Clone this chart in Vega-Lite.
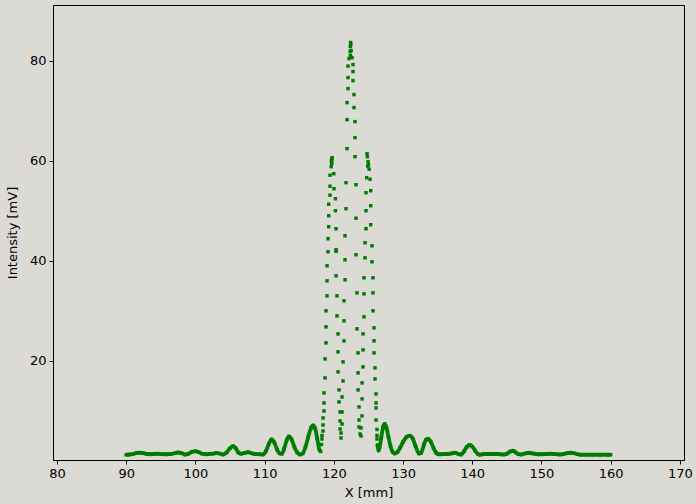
{
  "$schema": "https://vega.github.io/schema/vega-lite/v6.json",
  "width": 631,
  "height": 455,
  "autosize": {"type": "none"},
  "padding": {"left": 53, "top": 5, "right": 12, "bottom": 44},
  "background": "#dcdad5",
  "config": {
    "view": {"stroke": "#000000", "strokeWidth": 1, "fill": "#dcdad5"},
    "axis": {
      "labelFont": "DejaVu Sans", "titleFont": "DejaVu Sans",
      "labelFontSize": 13, "titleFontSize": 13, "titleFontWeight": "normal",
      "labelColor": "#000000", "titleColor": "#000000",
      "domainColor": "#000000", "tickColor": "#000000",
      "tickSize": 4, "grid": false
    }
  },
  "data": {"values": [
    {"x":90.0,"y":1.25},{"x":90.5,"y":1.3},{"x":91.0,"y":1.4},{"x":91.5,"y":1.6},{"x":92.0,"y":1.65},{"x":92.5,"y":1.55},{"x":93.0,"y":1.4},{"x":93.5,"y":1.35},{"x":94.0,"y":1.4},{"x":94.5,"y":1.45},{"x":95.0,"y":1.4},{"x":95.5,"y":1.35},{"x":96.0,"y":1.35},{"x":96.5,"y":1.4},{"x":97.0,"y":1.55},{"x":97.5,"y":1.7},{"x":98.0,"y":1.55},{"x":98.5,"y":1.3},{"x":99.0,"y":1.45},{"x":99.5,"y":1.85},{"x":100.0,"y":1.95},{"x":100.5,"y":1.75},{"x":101.0,"y":1.45},{"x":101.5,"y":1.35},{"x":102.0,"y":1.4},{"x":102.5,"y":1.45},{"x":103.0,"y":1.6},{"x":103.5,"y":1.5},{"x":104.0,"y":1.3},{"x":104.5,"y":1.7},{"x":105.0,"y":2.55},{"x":105.4,"y":2.95},{"x":105.8,"y":2.6},{"x":106.2,"y":1.7},{"x":106.6,"y":1.45},{"x":107.1,"y":1.6},{"x":107.6,"y":1.75},{"x":108.1,"y":1.55},{"x":108.6,"y":1.4},{"x":109.2,"y":1.35},{"x":109.7,"y":1.3},{"x":110.2,"y":2.0},{"x":110.6,"y":3.4},{"x":111.0,"y":4.3},{"x":111.4,"y":3.7},{"x":111.8,"y":2.3},{"x":112.2,"y":1.5},{"x":112.5,"y":1.45},{"x":112.8,"y":2.4},{"x":113.2,"y":4.2},{"x":113.5,"y":4.9},{"x":113.9,"y":4.3},{"x":114.3,"y":2.8},{"x":114.7,"y":1.7},{"x":115.1,"y":1.3},{"x":115.5,"y":1.5},{"x":115.9,"y":2.8},{"x":116.3,"y":4.8},{"x":116.7,"y":6.6},{"x":117.0,"y":7.1},{"x":117.3,"y":6.5},{"x":117.6,"y":4.5},{"x":117.9,"y":2.3},{"x":118.1,"y":1.9},
    {"x":118.22,"y":3.3},{"x":118.29,"y":4.4},{"x":118.29,"y":5.1},{"x":118.44,"y":6.0},{"x":118.44,"y":7.2},{"x":118.44,"y":8.6},{"x":118.58,"y":10.0},{"x":118.58,"y":11.6},{"x":118.58,"y":13.6},{"x":118.73,"y":16.6},{"x":118.73,"y":20.4},{"x":118.87,"y":23.6},{"x":118.87,"y":26.8},{"x":118.87,"y":30.0},{"x":119.02,"y":33.0},{"x":119.02,"y":36.0},{"x":119.02,"y":39.0},{"x":119.16,"y":41.8},{"x":119.16,"y":44.4},{"x":119.26,"y":46.8},{"x":119.26,"y":49.0},{"x":119.26,"y":51.3},{"x":119.45,"y":53.1},{"x":119.45,"y":54.9},{"x":119.45,"y":57.1},
    {"x":119.62,"y":58.8},{"x":119.70,"y":59.4},{"x":119.65,"y":60.0},{"x":119.72,"y":60.4},{"x":119.68,"y":59.8},{"x":119.75,"y":60.6},
    {"x":119.99,"y":57.4},{"x":120.03,"y":54.4},{"x":120.23,"y":52.4},{"x":120.23,"y":50.0},{"x":120.32,"y":46.4},{"x":120.32,"y":42.2},{"x":120.32,"y":41.9},{"x":120.32,"y":37.0},{"x":120.46,"y":33.0},{"x":120.46,"y":29.0},{"x":120.61,"y":25.4},{"x":120.61,"y":21.8},{"x":120.61,"y":17.8},{"x":120.75,"y":14.2},{"x":120.75,"y":11.8},{"x":120.90,"y":9.8},{"x":120.90,"y":8.0},{"x":120.90,"y":6.4},{"x":121.04,"y":5.6},{"x":121.04,"y":4.6},
    {"x":121.19,"y":7.4},{"x":121.19,"y":9.8},{"x":121.19,"y":12.8},{"x":121.33,"y":16.0},{"x":121.33,"y":19.8},{"x":121.47,"y":24.0},{"x":121.47,"y":28.0},{"x":121.47,"y":32.0},{"x":121.62,"y":36.2},{"x":121.62,"y":40.2},{"x":121.62,"y":45.0},{"x":121.76,"y":50.4},{"x":121.76,"y":55.6},{"x":121.91,"y":62.4},{"x":121.91,"y":68.2},{"x":121.91,"y":71.6},{"x":122.05,"y":74.4},{"x":122.05,"y":76.6},{"x":122.05,"y":78.9},{"x":122.20,"y":80.4},
    {"x":122.42,"y":83.6},{"x":122.46,"y":83.2},{"x":122.38,"y":82.8},{"x":122.50,"y":82.0},{"x":122.36,"y":81.8},{"x":122.40,"y":81.0},
    {"x":122.63,"y":80.6},{"x":122.77,"y":79.2},{"x":122.77,"y":77.8},{"x":122.77,"y":76.0},{"x":122.92,"y":73.2},{"x":122.92,"y":70.6},{"x":123.06,"y":67.8},{"x":123.06,"y":64.6},{"x":123.06,"y":60.8},{"x":123.21,"y":55.2},{"x":123.21,"y":48.5},{"x":123.21,"y":41.2},{"x":123.35,"y":33.6},{"x":123.35,"y":26.4},{"x":123.50,"y":21.6},{"x":123.50,"y":17.6},{"x":123.50,"y":14.2},{"x":123.64,"y":10.8},{"x":123.64,"y":8.2},{"x":123.64,"y":6.8},{"x":123.79,"y":5.4},
    {"x":123.93,"y":5.0},{"x":123.93,"y":6.6},{"x":124.08,"y":9.0},{"x":124.08,"y":12.4},{"x":124.08,"y":15.6},{"x":124.22,"y":18.8},{"x":124.22,"y":22.2},{"x":124.22,"y":25.4},{"x":124.36,"y":28.8},{"x":124.36,"y":33.4},{"x":124.36,"y":36.6},{"x":124.51,"y":40.6},{"x":124.51,"y":43.6},{"x":124.65,"y":46.4},{"x":124.65,"y":50.0},{"x":124.65,"y":53.6},{"x":124.75,"y":56.6},
    {"x":124.80,"y":61.4},{"x":124.85,"y":60.8},{"x":124.95,"y":59.8},{"x":124.90,"y":58.9},{"x":125.00,"y":59.2},{"x":125.10,"y":58.3},
    {"x":125.23,"y":56.3},{"x":125.33,"y":54.0},{"x":125.33,"y":51.0},{"x":125.33,"y":47.2},{"x":125.52,"y":43.0},{"x":125.52,"y":39.8},{"x":125.66,"y":36.6},{"x":125.66,"y":33.6},{"x":125.66,"y":30.0},{"x":125.81,"y":26.6},{"x":125.81,"y":24.0},{"x":125.81,"y":21.6},{"x":125.95,"y":18.6},{"x":125.95,"y":16.4},{"x":126.10,"y":13.4},{"x":126.10,"y":11.6},{"x":126.10,"y":10.6},{"x":126.10,"y":8.2},{"x":126.24,"y":6.3},{"x":126.24,"y":5.1},{"x":126.24,"y":4.4},
    {"x":126.3,"y":3.2},{"x":126.45,"y":2.1},{"x":126.6,"y":2.6},{"x":126.85,"y":4.6},{"x":127.1,"y":6.7},{"x":127.35,"y":7.4},{"x":127.6,"y":6.7},{"x":127.9,"y":4.8},{"x":128.2,"y":2.9},{"x":128.5,"y":1.8},{"x":128.8,"y":1.5},{"x":129.2,"y":1.8},{"x":129.6,"y":2.7},{"x":130.0,"y":3.8},{"x":130.5,"y":4.8},{"x":130.95,"y":5.05},{"x":131.4,"y":4.5},{"x":131.8,"y":3.0},{"x":132.3,"y":1.5},{"x":132.6,"y":1.6},{"x":133.0,"y":3.2},{"x":133.3,"y":4.2},{"x":133.6,"y":4.45},{"x":134.0,"y":3.9},{"x":134.4,"y":2.6},{"x":134.8,"y":1.6},{"x":135.1,"y":1.35},{"x":135.5,"y":1.35},{"x":136.0,"y":1.4},{"x":136.5,"y":1.4},{"x":137.0,"y":1.5},{"x":137.5,"y":1.65},{"x":138.0,"y":1.4},{"x":138.4,"y":1.3},{"x":138.8,"y":1.9},{"x":139.2,"y":2.8},{"x":139.6,"y":3.2},{"x":140.0,"y":2.9},{"x":140.4,"y":2.1},{"x":140.8,"y":1.4},{"x":141.1,"y":1.25},{"x":141.5,"y":1.35},{"x":142.0,"y":1.4},{"x":142.5,"y":1.4},{"x":143.0,"y":1.4},{"x":143.5,"y":1.4},{"x":144.0,"y":1.35},{"x":144.5,"y":1.3},{"x":145.0,"y":1.45},{"x":145.5,"y":1.9},{"x":145.9,"y":2.05},{"x":146.3,"y":1.7},{"x":146.7,"y":1.35},{"x":147.1,"y":1.3},{"x":147.6,"y":1.5},{"x":148.2,"y":1.65},{"x":148.7,"y":1.5},{"x":149.2,"y":1.4},{"x":149.7,"y":1.35},{"x":150.2,"y":1.35},{"x":150.7,"y":1.4},{"x":151.2,"y":1.45},{"x":151.7,"y":1.4},{"x":152.2,"y":1.35},{"x":152.7,"y":1.3},{"x":153.2,"y":1.4},{"x":153.7,"y":1.55},{"x":154.2,"y":1.65},{"x":154.7,"y":1.55},{"x":155.2,"y":1.35},{"x":155.7,"y":1.25},{"x":156.5,"y":1.25},{"x":157.5,"y":1.25},{"x":158.5,"y":1.25},{"x":159.5,"y":1.25},{"x":160.0,"y":1.25}
  ]},
  "encoding": {
    "x": {"field": "x", "type": "quantitative", "title": "X [mm]",
      "scale": {"domain": [79.42, 170.6], "nice": false, "zero": false},
      "axis": {"values": [80, 90, 100, 110, 120, 130, 140, 150, 160, 170], "labelPadding": 3, "titlePadding": 6}},
    "y": {"field": "y", "type": "quantitative", "title": "Intensity [mV]",
      "scale": {"domain": [0.2, 91.1], "nice": false, "zero": false},
      "axis": {"values": [20, 40, 60, 80], "labelPadding": 3, "titlePadding": 10}}
  },
  "layer": [
    {"transform": [{"filter": "datum.x <= 118.15"}],
     "mark": {"type": "line", "color": "#008000", "strokeWidth": 3.8, "interpolate": "monotone"}},
    {"transform": [{"filter": "datum.x >= 126.3"}],
     "mark": {"type": "line", "color": "#008000", "strokeWidth": 3.8, "interpolate": "monotone"}},
    {"mark": {"type": "point", "shape": "square", "filled": true, "size": 12, "color": "#007a00", "opacity": 1}}
  ]
}
